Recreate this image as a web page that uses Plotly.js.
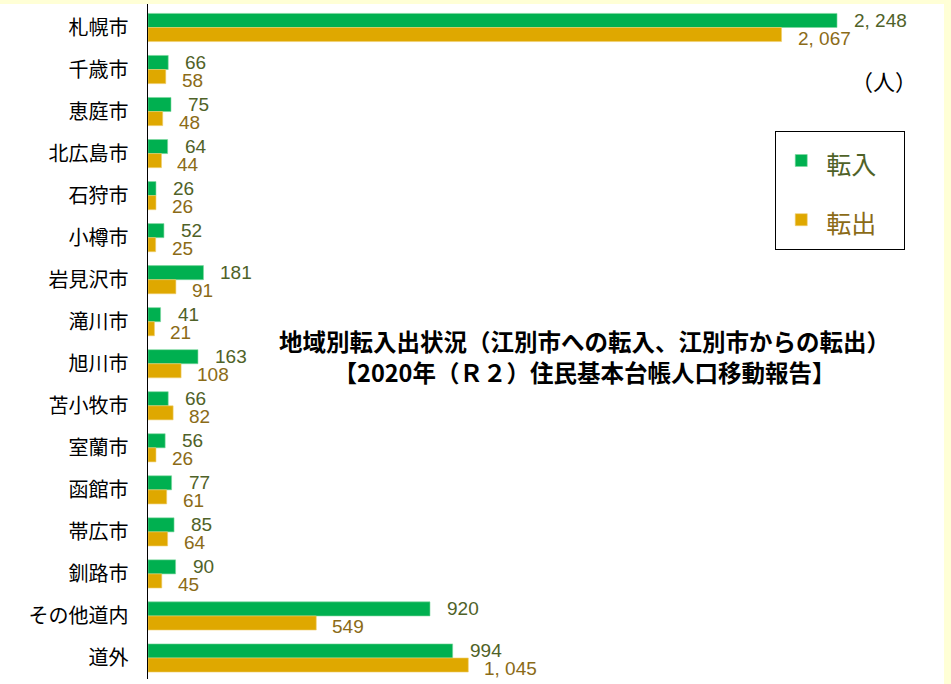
<!DOCTYPE html>
<html>
<head>
<meta charset="utf-8">
<script src="https://cdn.plot.ly/plotly-3.0.1.min.js"></script>
<style>html,body{margin:0;padding:0;background:#FFFFD6;}#chart{width:951px;height:684px;}</style>
</head>
<body>
<div id="chart"></div>
<script>
const categories = ['札幌市','千歳市','恵庭市','北広島市','石狩市','小樽市','岩見沢市','滝川市','旭川市','苫小牧市','室蘭市','函館市','帯広市','釧路市','その他道内','道外'];
const tennyu = [2248,66,75,64,26,52,181,41,163,66,56,77,85,90,920,994];
const tenshutsu = [2067,58,48,44,26,25,91,21,108,82,26,61,64,45,549,1045];
const seriesNames = ['転入','転出'];
const titleLines = ['地域別転入出状況（江別市への転入、江別市からの転出）','【2020年（Ｒ２）住民基本台帳人口移動報告】'];
const unitLabel = '（人）';

const GREEN = '#00B050', ORANGE = '#DFA800';
const GREEN_TXT = '#4F6228', ORANGE_TXT = '#8B6B17';
const CJK = '"Noto Sans CJK JP", "Noto Sans", sans-serif';
const NARROW = '"Liberation Sans Narrow", "Liberation Sans", sans-serif';

function fmt(v){ return v.toLocaleString('en-US').replace(/,/g, ', '); }
function legendName(t, col){ return '<span style="color:'+col+';font-size:25px">'+t+'</span>\u00a0\u00a0\u00a0'; }

const traces = [
  {type:'bar', orientation:'h', y:categories, x:tennyu, name:legendName(seriesNames[0], GREEN_TXT),
   marker:{color:GREEN, line:{color:'#7ED9A0', width:0.6}}, legendgroup:'a', hoverinfo:'x'},
  {type:'bar', orientation:'h', y:categories, x:tenshutsu, name:legendName(seriesNames[1], ORANGE_TXT),
   marker:{color:ORANGE, line:{color:'#F0CF70', width:0.6}}, legendgroup:'b', hoverinfo:'x'}
];

const annotations = [];
categories.forEach((c,i)=>{
  annotations.push({x:tennyu[i], y:c, xref:'x', yref:'y', text:fmt(tennyu[i]), showarrow:false,
    xanchor:'left', yanchor:'middle', xshift:15, yshift:7, font:{family:NARROW, size:19, color:GREEN_TXT, stretch:'condensed'}});
  annotations.push({x:tenshutsu[i], y:c, xref:'x', yref:'y', text:fmt(tenshutsu[i]), showarrow:false,
    xanchor:'left', yanchor:'middle', xshift:14, yshift:-11, font:{family:NARROW, size:19, color:ORANGE_TXT, stretch:'condensed'}});
});
annotations.push({xref:'paper', yref:'paper', x:0.925, y:0.887, text:unitLabel, showarrow:false,
  xanchor:'center', yanchor:'middle', font:{family:CJK, size:22, color:'#000'}});
annotations.push({xref:'paper', yref:'paper', x:0.548, y:0.478, text:'<b>'+titleLines[0]+'</b><br><b>'+titleLines[1]+'</b>',
  showarrow:false, xanchor:'center', yanchor:'middle', align:'center',
  font:{family:CJK, size:23.5, color:'#000'}});

const layout = {
  width:951, height:684,
  margin:{l:148, r:7, t:4, b:5, pad:0},
  paper_bgcolor:'#FFFFD6', plot_bgcolor:'#FFFFFF',
  barmode:'group', bargap:0.33, bargroupgap:0,
  showlegend:true,
  legend:{x:0.788, y:0.812, xanchor:'left', yanchor:'top', bgcolor:'#FFFFFF', bordercolor:'#000', borderwidth:1,
    font:{family:CJK, size:34}, traceorder:'grouped', tracegroupgap:12, itemwidth:40},
  xaxis:{range:[0,2597], showgrid:false, zeroline:false, showticklabels:false, showline:false, ticks:''},
  yaxis:{type:'category', autorange:'reversed', showgrid:false, zeroline:false, showline:true, linecolor:'#000', linewidth:1.5,
    ticks:'', ticklabelstandoff:14, tickfont:{family:CJK, size:20, color:'#000'}},
  shapes:[{type:'rect', xref:'paper', yref:'paper', x0:-0.2, x1:1, y0:-0.1, y1:1, fillcolor:'#FFFFFF', line:{width:0}, layer:'below'}],
  annotations:annotations
};
Plotly.newPlot('chart', traces, layout, {displayModeBar:false, staticPlot:true});
</script>
</body>
</html>
